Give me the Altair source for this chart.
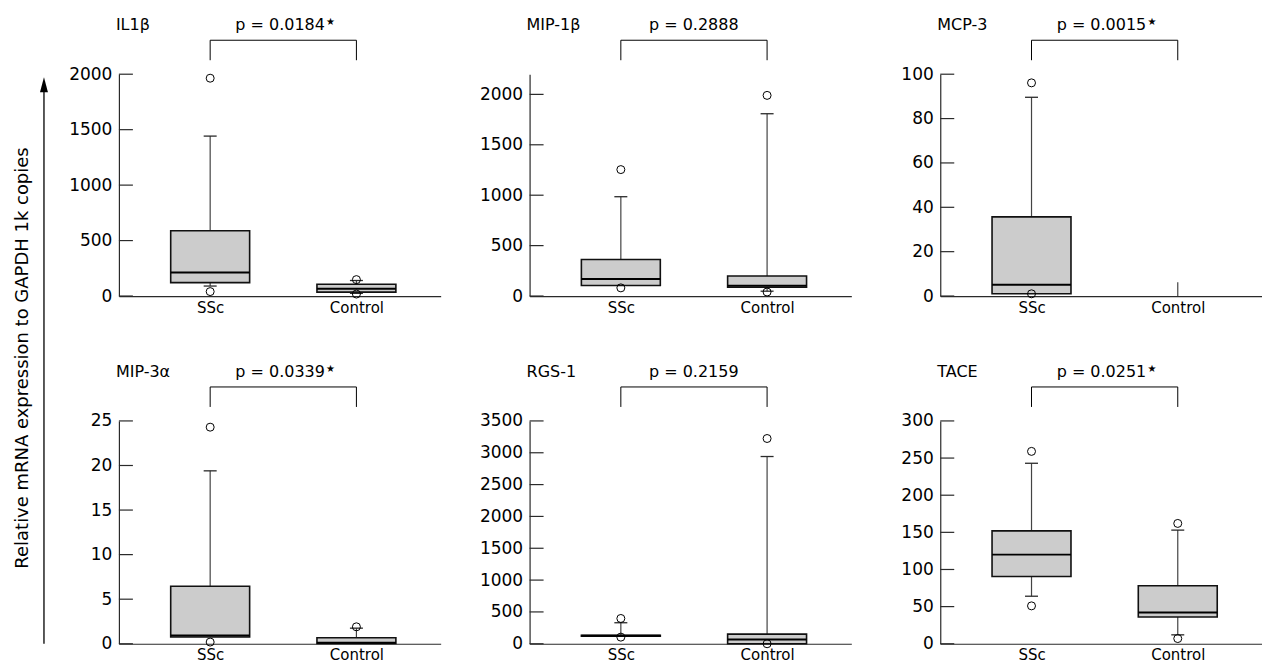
import altair as alt
import pandas as pd

# ---------------- data ----------------
groups = ["SSc", "Control"]
panel_names = ["IL1β", "MIP-1β", "MCP-3", "MIP-3α", "RGS-1", "TACE"]
p_texts = ["p = 0.0184", "p = 0.2888", "p = 0.0015", "p = 0.0339", "p = 0.2159", "p = 0.0251"]
p_stars = ["★", "", "★", "★", "", "★"]
y_title = "Relative mRNA expression to GAPDH 1k copies"

y_max = [2000, 2200, 100, 25, 3500, 300]
y_ticks = [
    [0, 500, 1000, 1500, 2000],
    [0, 500, 1000, 1500, 2000],
    [0, 20, 40, 60, 80, 100],
    [0, 5, 10, 15, 20, 25],
    [0, 500, 1000, 1500, 2000, 2500, 3000, 3500],
    [0, 50, 100, 150, 200, 250, 300],
]

# values per panel as [SSc, Control]
whisker_low = [[90, 24], [104, 48], [1.0, 0], [0.75, 0.04], [118, 0], [64, 12]]
q1 = [[121, 35], [104, 87], [1.0, None], [0.75, 0.04], [118, 0], [90.5, 36]]
median = [[212, 66], [168, 101], [5.1, None], [0.93, 0.12], [125, 68], [120, 42]]
q3 = [[588, 106], [363, 198], [35.7, None], [6.46, 0.67], [132, 152], [152, 78]]
whisker_high = [[1442, 140], [985, 1808], [89.6, 6.2], [19.4, 1.75], [330, 2941], [243, 153]]
cap_low = [[90, 24], [None, 48], [None, None], [None, None], [None, None], [64, 12]]
cap_high = [[1442, 140], [985, 1808], [89.6, None], [19.4, 1.75], [330, 2941], [243, 153]]
outliers = [
    [[1964, 40], [148, 18]],
    [[1254, 81], [1990, 40]],
    [[96.1, 1.0], []],
    [[24.3, 0.19], [1.9]],
    [[397, 104], [3224, 0]],
    [[259, 51], [162, 7]],
]

FONT = "DejaVu Sans"
INK = "#000000"
LINE = "#2a2a2a"


def make_panel(i):
    xs = alt.Scale(type="point", domain=groups, padding=0.6, align=0.52)
    xax = alt.Axis(title=None, ticks=False, tickSize=0, labelAngle=0, labelFontSize=15,
                   labelPadding=4, labelColor=INK, domainColor=LINE, domainWidth=1.2,
                   grid=False, labelFont=FONT)
    ys = alt.Scale(domain=[0, y_max[i]], nice=False, zero=True)
    yax = alt.Axis(title=None, values=y_ticks[i], ticks=False, tickSize=0, labelFontSize=17,
                   labelPadding=7, labelColor=INK, domainColor=LINE, domainWidth=1.2,
                   grid=False, labelFont=FONT, format="d")

    def X(f):
        return alt.X(f"{f}:N", scale=xs, axis=xax)

    def Y(f):
        return alt.Y(f"{f}:Q", scale=ys, axis=yax)

    box_df = pd.DataFrame({
        "group": groups,
        "lo": whisker_low[i],
        "q1": q1[i],
        "med": median[i],
        "q3": q3[i],
        "hi": whisker_high[i],
    })
    cap_rows = []
    for g, lo, hi in zip(groups, cap_low[i], cap_high[i]):
        if lo is not None:
            cap_rows.append({"group": g, "value": lo})
        if hi is not None:
            cap_rows.append({"group": g, "value": hi})
    cap_df = pd.DataFrame(cap_rows)
    out_rows = [{"group": g, "value": v} for g, vals in zip(groups, outliers[i]) for v in vals]
    out_df = pd.DataFrame(out_rows)
    tick_df = pd.DataFrame({"tick": y_ticks[i]})

    whisk = alt.Chart(box_df).mark_rule(color="#444444", strokeWidth=1.2).encode(
        x=X("group"), y=Y("lo"), y2="hi")
    box = alt.Chart(box_df).mark_bar(size=79, fill="#cccccc", stroke="#111111",
                                     strokeWidth=1.6, opacity=1).encode(
        x=X("group"), y=Y("q1"), y2="q3")
    med = alt.Chart(box_df).mark_tick(size=79, thickness=2, color=INK, opacity=1).encode(
        x=X("group"), y=Y("med"))
    caps = alt.Chart(cap_df).mark_tick(size=13, thickness=1.3, color=LINE, opacity=1).encode(
        x=X("group"), y=Y("value"))
    outl = alt.Chart(out_df).mark_point(shape="circle", size=64, filled=False, stroke=INK,
                                        strokeWidth=1, opacity=1).encode(
        x=X("group"), y=Y("value"))
    inticks = alt.Chart(tick_df).mark_rule(color=LINE, strokeWidth=1.2).encode(
        y=Y("tick"), x=alt.value(0), x2=alt.value(14))

    br_v = alt.Chart(pd.DataFrame({"group": groups})).mark_rule(color=INK, strokeWidth=1).encode(
        x=X("group"), y=alt.value(-34), y2=alt.value(-14))
    br_h = alt.Chart(pd.DataFrame({"g1": [groups[0]], "g2": [groups[1]]})).mark_rule(
        color=INK, strokeWidth=1).encode(x=X("g1"), x2="g2", y=alt.value(-34))

    title = alt.Chart(pd.DataFrame({"t": [panel_names[i]]})).mark_text(
        align="left", baseline="alphabetic", fontSize=16, font=FONT, color=INK).encode(
        x=alt.value(-3), y=alt.value(-44), text="t:N")
    has_star = p_stars[i] != ""
    ptext = alt.Chart(pd.DataFrame({"group": [groups[0]], "t": [p_texts[i]]})).mark_text(
        align="center", baseline="alphabetic", fontSize=16, font=FONT, color=INK,
        dx=70 if has_star else 73).encode(
        x=X("group"), y=alt.value(-44), text="t:N")
    layers = [inticks, whisk, box, med, caps, outl, br_v, br_h, title, ptext]
    if has_star:
        star = alt.Chart(pd.DataFrame({"group": [groups[0]], "t": [p_stars[i]]})).mark_text(
            align="left", baseline="alphabetic", fontSize=10, font=FONT, color=INK,
            dx=116).encode(x=X("group"), y=alt.value(-49), text="t:N")
        layers.append(star)

    if i == 0:
        # shared y-axis title with upward arrow, left of the first column
        adf = pd.DataFrame({"label": [y_title]})
        a_rule = alt.Chart(adf).mark_rule(color=INK, strokeWidth=1.3).encode(
            x=alt.value(-75), y=alt.value(12), y2=alt.value(570))
        a_head = alt.Chart(adf).mark_point(shape="M0,-1L0.53,1L-0.53,1Z", size=225,
                                           filled=True, color=INK, opacity=1).encode(
            x=alt.value(-75), y=alt.value(10.5))
        a_text = alt.Chart(adf).mark_text(angle=270, align="center", baseline="alphabetic",
                                          fontSize=18, font=FONT, color=INK).encode(
            x=alt.value(-91), y=alt.value(284), text="label:N")
        layers += [a_rule, a_head, a_text]

    h = 222 if i < 3 else 223
    return alt.layer(*layers).properties(width=322, height=h)


panels = [make_panel(i) for i in range(6)]
chart = alt.concat(
    *panels, columns=3, spacing=alt.RowColnumber(row=125, column=89), bounds="flush"
).resolve_scale(x="independent", y="independent").properties(
    padding={"left": 6, "top": 9, "right": 0, "bottom": 0}
).configure(font=FONT).configure_view(strokeWidth=0)

chart.save("out.html", embed_options={"renderer": "svg", "actions": False})
